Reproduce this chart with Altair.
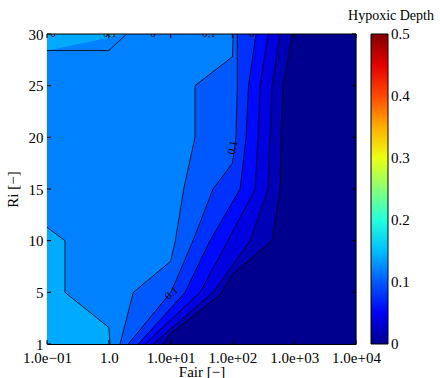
import altair as alt
import pandas as pd

# ---------------- axes / ticks ----------------
x_ticks = [0.1, 1, 10, 100, 1000, 10000]
x_tick_labels = ["1.0e\u221201", "1.0", "1.0e+01", "1.0e+02", "1.0e+03", "1.0e+04"]
y_ticks = [0, 5, 10, 15, 20, 25, 30]
y_tick_labels = ["1", "5", "10", "15", "20", "25", "30"]
cbar_ticks = [0, 0.1, 0.2, 0.3, 0.4, 0.5]
cbar_title = "Hypoxic Depth"

# ---------------- contour boundaries (x, y) ----------------
# level 0.14 (bottom-left pocket and top strip)
ab_low_x = [1.045, 1.0, 0.195, 0.195, 0.1]
ab_low_y = [0, 1.6, 5, 10, 11.3]
ab_top_x = [0.1, 1.0, 1.95]
ab_top_y = [28.4, 28.4, 30]
# level 0.12
bc_x = [1.52, 2.49, 10, 11.9, 16.3, 24.8, 24.8, 100, 103]
bc_y = [0, 5, 8, 10, 15, 20, 25, 27.8, 30]
# level 0.10
cd_x = [2.07, 10.1, 23, 48.6, 100, 114, 120, 120]
cd_y = [0, 5, 10, 15, 17.5, 20, 25, 30]
# level 0.08
de_x = [3.0, 17.1, 43.4, 133, 166, 182, 241]
de_y = [0, 5, 10, 15, 20, 25, 30]
# level 0.06
ef_x = [3.86, 29.9, 84.9, 232, 260, 280, 377]
ef_y = [0, 5, 10, 15, 20, 25, 30]
# level 0.04
fg_x = [5.25, 48.6, 193, 377, 406, 437, 589]
fg_y = [0, 5, 10, 15, 20, 25, 30]
# level 0.02
gh_x = [7.6, 9.8, 63, 97.5, 437, 589, 611, 659, 920]
gh_y = [0, 0.97, 4.74, 6.68, 10, 15, 20, 25, 30]

background_value = 0.12
left_pockets = [(ab_low_x, ab_low_y, 0.14), (ab_top_x, ab_top_y, 0.14)]
right_bands = [
    (bc_x, bc_y, 0.10),
    (cd_x, cd_y, 0.08),
    (de_x, de_y, 0.06),
    (ef_x, ef_y, 0.04),
    (fg_x, fg_y, 0.02),
    (gh_x, gh_y, 0.0),
]

# contour labels
lab_x = [10.4, 102, 0.125, 1.04, 5.2, 41.8, 205]
lab_y = [4.9, 19.0, 30, 30, 30, 30, 30]
lab_t = ["0.1", "0.1", "0", "0.1", "0", "0.1", "0"]
lab_a = [318, 282, 0, 0, 0, 0, 0]

W, H = 309, 310
FONT = "Liberation Serif"
CB_X0, CB_W = 324, 17          # colorbar position (relative to plot origin)

xs = alt.Scale(type="log", domain=[x_ticks[0], x_ticks[-1]], nice=False)
ys = alt.Scale(domain=[y_ticks[0], y_ticks[-1]], nice=False, zero=False)
cs = alt.Scale(domain=[cbar_ticks[0], cbar_ticks[-1]], nice=False, zero=False)

jet = alt.Scale(
    domain=[0, 0.0556, 0.1825, 0.3095, 0.4365, 0.5],
    range=["#00008F", "#0000FF", "#00FFFF", "#FFFF00", "#FF0000", "#800000"],
    interpolate="rgb",
)
legend = alt.Legend(
    title=None, orient="none", legendX=CB_X0, legendY=0,
    direction="vertical", gradientLength=H, gradientThickness=CB_W,
    values=cbar_ticks, labelExpr="''", labelFontSize=1,
    gradientStrokeColor="black", gradientStrokeWidth=1,
)
color = alt.Color("v:Q", scale=jet, legend=legend)

xlab_expr = "[" + ",".join("'%s'" % s for s in x_tick_labels) + "][round(log(datum.value)/LN10)+1]"
ylab_expr = "[" + ",".join("'%s'" % s for s in y_tick_labels) + "][round(datum.value/5)]"
x_axis = alt.Axis(values=x_ticks, labelExpr=xlab_expr, title="Fair [\u2212]", labelPadding=6,
                  titlePadding=-1, labelFlush=False, labelOverlap=False)
y_axis = alt.Axis(values=y_ticks, labelExpr=ylab_expr, title="Ri [\u2212]", labelPadding=4,
                  titlePadding=8, labelFlush=False, labelOverlap=False)


def X(f):
    return alt.X(f, scale=xs, axis=x_axis, stack=None)


def Y(f):
    return alt.Y(f, scale=ys, axis=None)


def frame(xv, yv, v):
    return pd.DataFrame({"x": xv, "y": yv, "v": [v] * len(xv), "i": list(range(len(xv)))})


layers = []
bg = alt.Chart(pd.DataFrame({"v": [background_value]})).mark_rect().encode(
    x=alt.X(datum=x_ticks[0], scale=xs, axis=x_axis),
    x2=alt.X2(datum=x_ticks[-1]),
    y=alt.Y(datum=y_ticks[0], scale=ys, axis=y_axis),
    y2=alt.Y2(datum=y_ticks[-1]),
    color=color,
)
layers.append(bg)

for xv, yv, v in left_pockets:
    layers.append(alt.Chart(frame(xv, yv, v)).mark_area(orient="horizontal", clip=True).encode(
        x=X("x:Q"), x2=alt.X2(datum=x_ticks[0]), y=Y("y:Q"), color=color))
for xv, yv, v in right_bands:
    layers.append(alt.Chart(frame(xv, yv, v)).mark_area(orient="horizontal", clip=True).encode(
        x=X("x:Q"), x2=alt.X2(datum=x_ticks[-1]), y=Y("y:Q"), color=color))
for xv, yv, v in left_pockets + right_bands:
    layers.append(alt.Chart(frame(xv, yv, v)).mark_line(color="black", strokeWidth=0.8, clip=True).encode(
        x=X("x:Q"), y=Y("y:Q"), order="i:Q"))

labs = pd.DataFrame({"x": lab_x, "y": lab_y, "t": lab_t, "a": lab_a})
layers.append(alt.Chart(labs).mark_text(font=FONT, fontSize=11, color="black", baseline="middle", clip=True).encode(
    x=X("x:Q"), y=Y("y:Q"), text="t:N", angle=alt.Angle("a:Q", scale=None)))

# inward ticks on all four sides
xt = pd.DataFrame({"x": x_ticks})
yt = pd.DataFrame({"y": y_ticks})
TL = 4
layers.append(alt.Chart(xt).mark_rule(color="black").encode(x=X("x:Q"), y=alt.value(H), y2=alt.value(H - TL)))
layers.append(alt.Chart(xt).mark_rule(color="black").encode(x=X("x:Q"), y=alt.value(0), y2=alt.value(TL)))
layers.append(alt.Chart(yt).mark_rule(color="black").encode(y=Y("y:Q"), x=alt.value(0), x2=alt.value(TL)))
layers.append(alt.Chart(yt).mark_rule(color="black").encode(y=Y("y:Q"), x=alt.value(W), x2=alt.value(W - TL)))
# frame top/right
layers.append(alt.Chart(xt.head(1)).mark_rule(color="black", strokeWidth=1.2).encode(x=alt.value(0), x2=alt.value(W), y=alt.value(0)))
layers.append(alt.Chart(xt.head(1)).mark_rule(color="black", strokeWidth=1.2).encode(x=alt.value(W), y=alt.value(0), y2=alt.value(H)))

# colorbar labels and ticks (own scale)
ct = pd.DataFrame({"c": cbar_ticks})
layers.append(alt.Chart(ct).mark_text(font=FONT, fontSize=15, color="black", align="left", baseline="middle").encode(
    y=alt.Y("c:Q", scale=cs, axis=None), x=alt.value(CB_X0 + CB_W + 3),
    text=alt.Text("c:Q", format=".1~f")))
layers.append(alt.Chart(ct.iloc[1:-1]).mark_rule(color="black", strokeWidth=0.8).encode(
    y=alt.Y("c:Q", scale=cs, axis=None), x=alt.value(CB_X0), x2=alt.value(CB_X0 + 3)))
layers.append(alt.Chart(ct.iloc[1:-1]).mark_rule(color="black", strokeWidth=0.8).encode(
    y=alt.Y("c:Q", scale=cs, axis=None), x=alt.value(CB_X0 + CB_W), x2=alt.value(CB_X0 + CB_W - 3)))
# colorbar title
layers.append(alt.Chart(pd.DataFrame({"t": [cbar_title]})).mark_text(
    font=FONT, fontSize=14, color="black", align="center", baseline="middle").encode(
    text="t:N", x=alt.value(344), y=alt.value(-18)))

chart = alt.layer(*layers).resolve_scale(y="independent").properties(
    width=W, height=H, autosize=alt.AutoSizeParams(type="none"),
    padding={"left": 47, "top": 34, "right": 84, "bottom": 34},
    background="white",
).configure_axis(
    labelFont=FONT, labelFontSize=15, labelColor="black", titleFont=FONT,
    titleFontSize=15, titleFontWeight="normal", titleColor="black",
    domainColor="black", domainWidth=1.2, ticks=False, grid=False, zindex=1,
).configure_view(stroke=None)

chart.save("out.html", embed_options={"renderer": "svg", "actions": False})
